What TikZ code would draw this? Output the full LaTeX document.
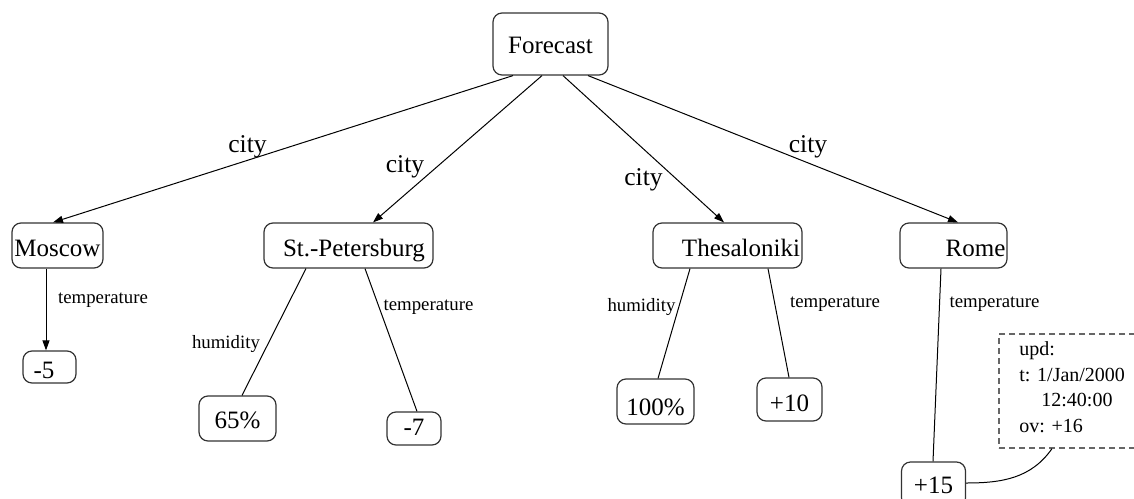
\documentclass[tikz,border=0pt]{standalone}
\usepackage{fontspec}
\setmainfont{Liberation Serif}
\usetikzlibrary{arrows.meta}
\begin{document}
\begin{tikzpicture}[x=0.5pt,y=-0.5pt,
  box/.style={draw=black!80, line width=0.6pt, rounded corners=4.5pt, inner sep=0pt,
              font=\fontsize{12.5}{15}\selectfont, text depth=0pt},
  edge/.style={line width=0.5pt},
  arr/.style={edge, -{Triangle[length=5pt,width=3.5pt]}},
  elab/.style={inner sep=0pt, font=\fontsize{9.4}{11}\selectfont},
  clab/.style={inner sep=0pt, font=\fontsize{12.8}{15}\selectfont}]
\useasboundingbox (0,0) rectangle (1134,498);
\clip (0,0) rectangle (1134,498);

% main nodes
\node[box, minimum width=57.5pt, minimum height=31pt, text height=9.3pt] (forecast) at (550.5,44) {Forecast};
\node[box, minimum width=45.5pt, minimum height=22.5pt, text height=11.2pt] (moscow) at (57.5,245.5) {Moscow};
\node[box, minimum width=84.5pt, minimum height=22.5pt, text height=11.2pt] (stp) at (348.5,245.5) {\hspace*{5.5pt}St.-Petersburg};
\node[box, minimum width=74.5pt, minimum height=22.5pt, text height=11.2pt] (thes) at (727.5,245.5) {\hspace*{13.5pt}Thesaloniki};
\node[box, minimum width=53.5pt, minimum height=22.5pt, text height=11.2pt] (rome) at (953.5,245.5) {\hspace*{22pt}Rome};

% value nodes
\node[box, minimum width=26.5pt, minimum height=16pt, text height=11.3pt] (m5) at (49.5,367) {-5\hspace*{5.5pt}};
\node[box, minimum width=38.5pt, minimum height=22.5pt, text height=9.8pt] (p65) at (237.5,418.5) {65\%};
\node[box, minimum width=27pt, minimum height=16.5pt, text height=6.5pt] (m7) at (414,428.5) {-7};
\node[box, minimum width=38.5pt, minimum height=22.5pt, text height=13.5pt] (p100) at (655.5,401.5) {100\%};
\node[box, minimum width=32.5pt, minimum height=21.5pt, text height=12.2pt] (p10) at (789.5,399.5) {+10};
\node[box, minimum width=32pt, minimum height=22.5pt, text height=8.5pt] (p15) at (933.5,484.5) {+15};

% annotation box
\node[draw=black!60, dash pattern=on 3pt off 2pt, line width=0.6pt, minimum width=75.5pt,
      minimum height=57pt, inner sep=0pt] (upd) at (1074.5,391) {};
\node[anchor=north west, align=left, inner sep=0pt, font=\fontsize{10}{12.8}\selectfont]
      (updtxt) at (1019,341.3) {upd:\\t: 1/Jan/2000\\\hspace*{11pt}12:40:00\\ov: +16};

% city edges
\draw[arr] ([xshift=-18.75pt]forecast.south) -- ([xshift=-2.25pt]moscow.north);
\draw[arr] ([xshift=-4.25pt]forecast.south) -- ([xshift=12.25pt]stp.north);
\draw[arr] ([xshift=6.25pt]forecast.south) -- ([xshift=-1.75pt]thes.north);
\draw[arr] ([xshift=18.75pt]forecast.south) -- ([xshift=2.25pt]rome.north);
\node[clab] (c1) at (247.5,147) {city};
\node[clab] (c2) at (405,167) {city};
\node[clab] (c3) at (643.5,180) {city};
\node[clab] (c4) at (808,146.5) {city};

% value edges
\draw[arr] ([xshift=-5.75pt]moscow.south) -- ([xshift=-1.75pt]m5.north);
\draw[edge] ([xshift=-21.25pt]stp.south) -- ([xshift=2.25pt]p65.north);
\draw[edge] ([xshift=8.25pt]stp.south) -- ([xshift=1.5pt]m7.north);
\draw[edge] ([xshift=-18.75pt]thes.south) -- ([xshift=1.25pt]p100.north);
\draw[edge] ([xshift=20.25pt]thes.south) -- ([xshift=-0.25pt]p10.north);
\draw[edge] ([xshift=-6.25pt]rome.south) -- ([xshift=-0.25pt]p15.north);
\node[elab] (t1) at (103,300) {temperature};
\node[elab] (h1) at (226,344.5) {humidity};
\node[elab] (t2) at (428.5,307) {temperature};
\node[elab] (h2) at (641.5,307.5) {humidity};
\node[elab] (t3) at (835,304) {temperature};
\node[elab] (t4) at (994.5,304) {temperature};

% annotation link
\draw[edge] ([yshift=0.75pt]p15.east) to[out=0,in=235] ([xshift=-11.25pt]upd.south);
\end{tikzpicture}
\end{document}
